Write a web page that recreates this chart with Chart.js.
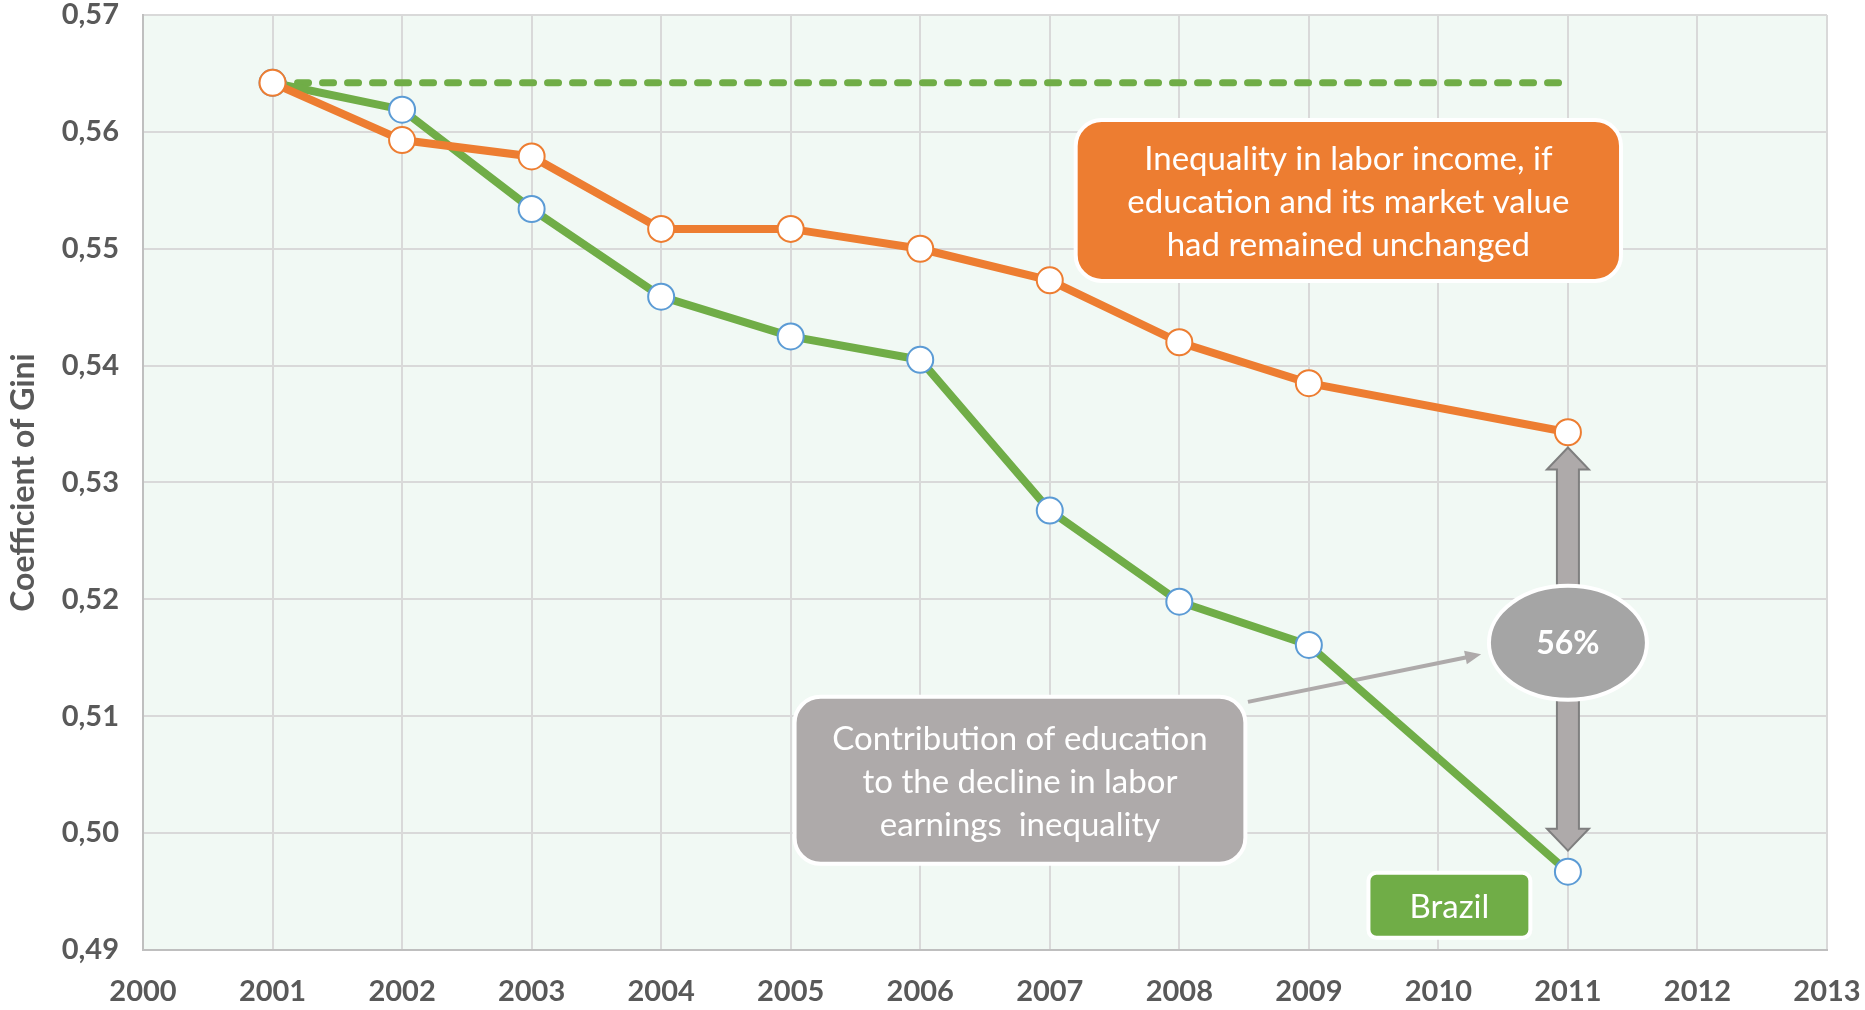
<!DOCTYPE html>
<html>
<head>
<meta charset="utf-8">
<script src="https://cdn.jsdelivr.net/npm/chart.js@4.4.0/dist/chart.umd.min.js"></script>
<style>
  html, body { margin: 0; padding: 0; background: #fff; }
</style>
</head>
<body>
<canvas id="giniChart" width="1865" height="1010"></canvas>
<script>
// years shown on the chart (2010 has no observation)
const years = [2001, 2002, 2003, 2004, 2005, 2006, 2007, 2008, 2009, 2010, 2011];
const brazilGini = [0.5642, 0.5619, 0.5534, 0.5459, 0.5425, 0.5405, 0.5276, 0.5198, 0.5161, null, 0.4967];
const unchangedEduGini = [0.5642, 0.5593, 0.5579, 0.5517, 0.5517, 0.5500, 0.5473, 0.5420, 0.5385, null, 0.5343];
const baselineYears = [2001, 2011];
const baselineGini = [0.5642, 0.5642];
const xTickYears = [2000, 2001, 2002, 2003, 2004, 2005, 2006, 2007, 2008, 2009, 2010, 2011, 2012, 2013];
const yTickValues = [0.49, 0.50, 0.51, 0.52, 0.53, 0.54, 0.55, 0.56, 0.57];

const ORANGE = '#ED7D31';
const GREEN = '#70AD47';
const BLUE = '#5B9BD5';
const GREY = '#AEAAAA';
const TEXT = '#595959';

Chart.defaults.font.family = 'Lato';

function toPoints(xs, ys) {
  return xs.map((x, i) => ({ x: x, y: ys[i] }));
}

function textLines(ctx, lines, cx, cy, lh) {
  const start = cy - (lines.length - 1) * lh / 2;
  lines.forEach((l, i) => ctx.fillText(l, cx, start + i * lh));
}

const annotations = {
  id: 'annotations',
  beforeDraw(chart) {
    const { ctx, chartArea: a } = chart;
    ctx.save();
    ctx.fillStyle = '#F1F9F4';
    ctx.fillRect(a.left, a.top, a.right - a.left, a.bottom - a.top);
    ctx.restore();
  },
  beforeDatasetsDraw(chart) {
    // connector from the grey box to the 56% bubble
    const { ctx, scales: { x, y } } = chart;
    const x1 = x.getPixelForValue(2008.53), y1 = y.getPixelForValue(0.51123);
    const x2 = x.getPixelForValue(2010.33), y2 = y.getPixelForValue(0.51530);
    const ang = Math.atan2(y2 - y1, x2 - x1);
    ctx.save();
    ctx.strokeStyle = GREY;
    ctx.fillStyle = GREY;
    ctx.lineWidth = 4;
    ctx.beginPath();
    ctx.moveTo(x1, y1);
    ctx.lineTo(x2 - 12 * Math.cos(ang), y2 - 12 * Math.sin(ang));
    ctx.stroke();
    ctx.beginPath();
    ctx.moveTo(x2, y2);
    ctx.lineTo(x2 - 16 * Math.cos(ang) + 7 * Math.sin(ang), y2 - 16 * Math.sin(ang) - 7 * Math.cos(ang));
    ctx.lineTo(x2 - 16 * Math.cos(ang) - 7 * Math.sin(ang), y2 - 16 * Math.sin(ang) + 7 * Math.cos(ang));
    ctx.closePath();
    ctx.fill();
    ctx.restore();
  },
  afterDatasetsDraw(chart) {
    const { ctx, scales: { x, y } } = chart;
    ctx.save();
    ctx.textAlign = 'center';
    ctx.textBaseline = 'middle';

    // orange call-out
    let l = x.getPixelForValue(2007.20), r = x.getPixelForValue(2011.41);
    let t = y.getPixelForValue(0.56102), b = y.getPixelForValue(0.54725);
    ctx.beginPath();
    ctx.roundRect(l, t, r - l, b - t, 26);
    ctx.fillStyle = ORANGE;
    ctx.fill();
    ctx.lineWidth = 4;
    ctx.strokeStyle = '#fff';
    ctx.stroke();
    ctx.fillStyle = '#fff';
    ctx.font = '33px Lato';
    textLines(ctx, ['Inequality in labor income, if', 'education and its market value', 'had remained unchanged'], (l + r) / 2, (t + b) / 2 + 2, 43);

    // grey call-out
    l = x.getPixelForValue(2005.03); r = x.getPixelForValue(2008.51);
    t = y.getPixelForValue(0.51166); b = y.getPixelForValue(0.49737);
    ctx.beginPath();
    ctx.roundRect(l, t, r - l, b - t, 26);
    ctx.fillStyle = GREY;
    ctx.fill();
    ctx.stroke();
    ctx.fillStyle = '#fff';
    textLines(ctx, ['Contribution of education', 'to the decline in labor', 'earnings  inequality'], (l + r) / 2, (t + b) / 2 + 2, 43);

    // Brazil label
    l = x.getPixelForValue(2009.46); r = x.getPixelForValue(2010.71);
    t = y.getPixelForValue(0.49660); b = y.getPixelForValue(0.49104);
    ctx.beginPath();
    ctx.roundRect(l, t, r - l, b - t, 8);
    ctx.fillStyle = GREEN;
    ctx.fill();
    ctx.stroke();
    ctx.fillStyle = '#fff';
    ctx.fillText('Brazil', (l + r) / 2, (t + b) / 2 + 2);

    // double arrow between the two 2011 values
    const ax = x.getPixelForValue(2011);
    const yTop = y.getPixelForValue(0.5330), yBot = y.getPixelForValue(0.4985);
    const sw = 11, hw = 21, hl = 22;
    ctx.beginPath();
    ctx.moveTo(ax, yTop);
    ctx.lineTo(ax + hw, yTop + hl);
    ctx.lineTo(ax + sw, yTop + hl);
    ctx.lineTo(ax + sw, yBot - hl);
    ctx.lineTo(ax + hw, yBot - hl);
    ctx.lineTo(ax, yBot);
    ctx.lineTo(ax - hw, yBot - hl);
    ctx.lineTo(ax - sw, yBot - hl);
    ctx.lineTo(ax - sw, yTop + hl);
    ctx.lineTo(ax - hw, yTop + hl);
    ctx.closePath();
    ctx.fillStyle = GREY;
    ctx.fill();
    ctx.lineWidth = 2;
    ctx.strokeStyle = '#7F7F7F';
    ctx.stroke();

    // 56% bubble
    const ey = y.getPixelForValue(0.51628);
    ctx.beginPath();
    ctx.ellipse(ax, ey, 79, 57, 0, 0, Math.PI * 2);
    ctx.fillStyle = '#A5A5A5';
    ctx.fill();
    ctx.lineWidth = 4;
    ctx.strokeStyle = '#fff';
    ctx.stroke();
    ctx.fillStyle = '#fff';
    ctx.font = 'bold 32px Lato';
    ctx.fillText('56%', ax, ey + 1);
    ctx.restore();
  }
};

const ctx = document.getElementById('giniChart').getContext('2d');
const giniChart = new Chart(ctx, {
  type: 'line',
  data: {
    datasets: [{
      label: 'Unchanged education',
      data: toPoints(years, unchangedEduGini),
      borderColor: ORANGE,
      borderWidth: 8,
      pointRadius: 13,
      pointBorderWidth: 2,
      pointBackgroundColor: '#fff',
      pointBorderColor: ORANGE,
      spanGaps: true,
      order: 1
    }, {
      label: 'Brazil',
      data: toPoints(years, brazilGini),
      borderColor: GREEN,
      borderWidth: 8,
      pointRadius: 13,
      pointBorderWidth: 2,
      pointBackgroundColor: '#fff',
      pointBorderColor: BLUE,
      spanGaps: true,
      order: 2
    }, {
      label: '2001 level',
      data: toPoints(baselineYears, baselineGini),
      borderColor: GREEN,
      borderWidth: 7,
      borderDash: [11, 14],
      borderCapStyle: 'round',
      pointRadius: 0,
      order: 3
    }]
  },
  options: {
    responsive: false,
    animation: false,
    layout: { padding: { top: 15, right: 38, left: 0, bottom: 0 } },
    plugins: {
      legend: { display: false },
      tooltip: { enabled: false }
    },
    scales: {
      x: {
        type: 'linear',
        min: 2000,
        max: 2013,
        afterBuildTicks: s => { s.ticks = xTickYears.map(v => ({ value: v })); },
        afterFit: s => { s.height = 60; s.paddingLeft = 0; s.paddingRight = 0; },
        grid: { color: '#D9D9D9', lineWidth: 2, drawTicks: false },
        border: { color: '#BFBFBF', width: 2 },
        ticks: {
          padding: 24,
          color: TEXT,
          font: { size: 29, weight: 'bold' },
          callback: v => String(v)
        }
      },
      y: {
        min: 0.49,
        max: 0.57,
        afterBuildTicks: s => { s.ticks = yTickValues.map(v => ({ value: v })); },
        afterFit: s => { s.width = 143; s.paddingTop = 0; s.paddingBottom = 0; },
        grid: { color: '#D9D9D9', lineWidth: 2, drawTicks: false },
        border: { color: '#BFBFBF', width: 2 },
        title: {
          display: true,
          text: 'Coefficient of Gini',
          color: TEXT,
          font: { size: 32, weight: 'bold' },
          padding: { top: 4, bottom: 0 }
        },
        ticks: {
          padding: 24,
          color: TEXT,
          font: { size: 29, weight: 'bold' },
          callback: v => v.toFixed(2).replace('.', ',')
        }
      }
    }
  },
  plugins: [annotations]
});
</script>
</body>
</html>
